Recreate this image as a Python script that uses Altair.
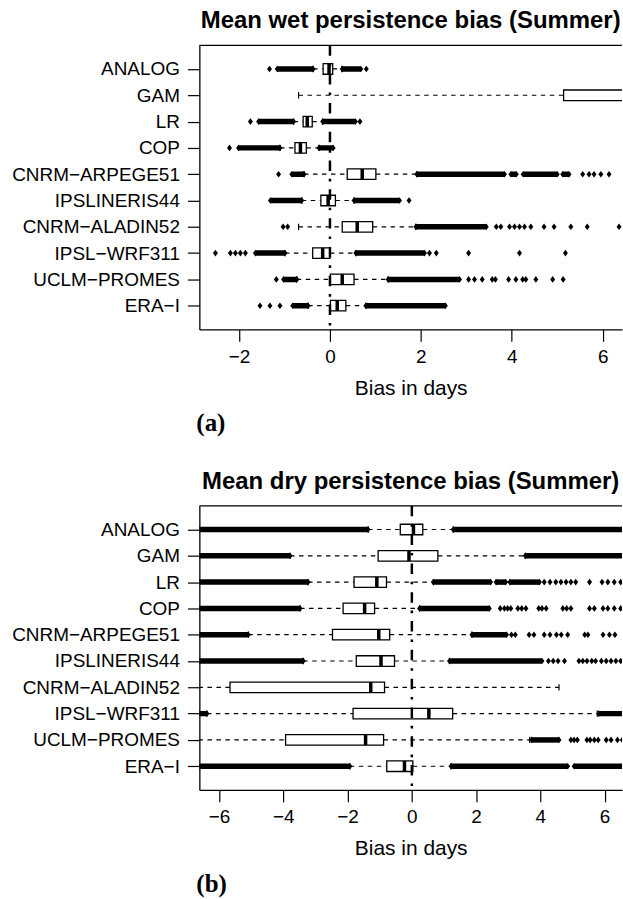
import altair as alt
import pandas as pd

# Models, listed top to bottom as they appear on the y axis
MODELS = ["ANALOG", "GAM", "LR", "COP", "CNRM−ARPEGE51", "IPSLINERIS44",
          "CNRM−ALADIN52", "IPSL−WRF311", "UCLM−PROMES", "ERA−I"]
ROWS = [10, 9, 8, 7, 6, 5, 4, 3, 2, 1]
ROW_OF = dict(zip(MODELS, ROWS))

# ---- (a) mean wet persistence bias, box statistics (days) ----
WET_LO = [-0.37, -0.69, -0.80, -1.10, -0.57, -0.62, -0.69, -0.99, -0.73, -0.48]
WET_Q1 = [-0.15, 5.14, -0.59, -0.77, 0.38, -0.20, 0.27, -0.38, 0.01, 0.01]
WET_MED = [-0.02, 6.80, -0.50, -0.65, 0.71, -0.04, 0.60, -0.16, 0.27, 0.16]
WET_Q3 = [0.06, 7.30, -0.39, -0.52, 1.01, 0.12, 0.94, 0.00, 0.53, 0.35]
WET_HI = [0.26, 7.60, -0.16, -0.24, 1.91, 0.53, 1.89, 0.57, 1.28, 0.79]

# dense runs of outliers (start, end)
WET_RUNS = [
    ("ANALOG", -1.16, -0.37), ("ANALOG", 0.27, 0.68),
    ("LR", -1.57, -0.80), ("LR", -0.16, 0.56),
    ("COP", -2.01, -1.10), ("COP", -0.24, 0.07),
    ("CNRM−ARPEGE51", -0.84, -0.57), ("CNRM−ARPEGE51", 1.91, 3.84),
    ("CNRM−ARPEGE51", 3.98, 4.10), ("CNRM−ARPEGE51", 4.25, 5.00),
    ("CNRM−ARPEGE51", 5.12, 5.26),
    ("IPSLINERIS44", -1.31, -0.62), ("IPSLINERIS44", 0.53, 1.53),
    ("CNRM−ALADIN52", 1.89, 3.44),
    ("IPSL−WRF311", -1.64, -0.99), ("IPSL−WRF311", 0.57, 2.08),
    ("UCLM−PROMES", -1.02, -0.73), ("UCLM−PROMES", 1.28, 2.85),
    ("ERA−I", -0.82, -0.48), ("ERA−I", 0.79, 2.54),
]
# isolated outliers
WET_POINTS = [
    ("ANALOG", -1.33), ("ANALOG", 0.80),
    ("LR", -1.75), ("LR", 0.66),
    ("COP", -2.21),
    ("CNRM−ARPEGE51", -1.13), ("CNRM−ARPEGE51", 5.56), ("CNRM−ARPEGE51", 5.70),
    ("CNRM−ARPEGE51", 5.81), ("CNRM−ARPEGE51", 5.96), ("CNRM−ARPEGE51", 6.14),
    ("IPSLINERIS44", 1.74),
    ("CNRM−ALADIN52", -1.03), ("CNRM−ALADIN52", -0.93), ("CNRM−ALADIN52", 3.66),
    ("CNRM−ALADIN52", 3.76), ("CNRM−ALADIN52", 3.95), ("CNRM−ALADIN52", 4.06),
    ("CNRM−ALADIN52", 4.17), ("CNRM−ALADIN52", 4.28), ("CNRM−ALADIN52", 4.42),
    ("CNRM−ALADIN52", 4.71), ("CNRM−ALADIN52", 4.93), ("CNRM−ALADIN52", 5.30),
    ("CNRM−ALADIN52", 5.66), ("CNRM−ALADIN52", 6.36),
    ("IPSL−WRF311", -2.52), ("IPSL−WRF311", -2.19), ("IPSL−WRF311", -2.08),
    ("IPSL−WRF311", -1.97), ("IPSL−WRF311", -1.86), ("IPSL−WRF311", 2.19),
    ("IPSL−WRF311", 2.34), ("IPSL−WRF311", 3.05), ("IPSL−WRF311", 4.17),
    ("IPSL−WRF311", 5.18),
    ("UCLM−PROMES", -1.18), ("UCLM−PROMES", 3.05), ("UCLM−PROMES", 3.18),
    ("UCLM−PROMES", 3.35), ("UCLM−PROMES", 3.57), ("UCLM−PROMES", 3.64),
    ("UCLM−PROMES", 3.93), ("UCLM−PROMES", 4.09), ("UCLM−PROMES", 4.24),
    ("UCLM−PROMES", 4.31), ("UCLM−PROMES", 4.53), ("UCLM−PROMES", 4.90),
    ("UCLM−PROMES", 5.13),
    ("ERA−I", -1.54), ("ERA−I", -1.32), ("ERA−I", -1.10),
]

# ---- (b) mean dry persistence bias, box statistics (days) ----
DRY_LO = [-1.36, -3.79, -3.23, -3.48, -5.09, -3.38, -7.20, -6.38, -7.20, -1.93]
DRY_Q1 = [-0.36, -1.05, -1.80, -2.14, -2.47, -1.73, -5.66, -1.83, -3.93, -0.78]
DRY_MED = [0.05, -0.09, -1.09, -1.47, -1.03, -0.96, -1.28, 0.53, -1.44, -0.23]
DRY_Q3 = [0.34, 0.81, -0.79, -1.16, -0.69, -0.54, -0.85, 1.27, -0.88, 0.03]
DRY_HI = [1.29, 3.53, 0.67, 0.24, 1.87, 1.17, 4.58, 5.77, 3.67, 1.22]

DRY_RUNS = [
    ("ANALOG", -7.20, -1.36), ("ANALOG", 1.29, 7.20),
    ("GAM", -7.20, -3.79), ("GAM", 3.53, 7.20),
    ("LR", -7.20, -3.23), ("LR", 0.67, 2.45), ("LR", 2.62, 2.92), ("LR", 3.05, 3.97),
    ("COP", -7.20, -3.48), ("COP", 0.24, 2.41),
    ("CNRM−ARPEGE51", -7.20, -5.09), ("CNRM−ARPEGE51", 1.87, 2.95),
    ("IPSLINERIS44", -7.20, -3.38), ("IPSLINERIS44", 1.17, 4.05),
    ("IPSL−WRF311", -7.20, -6.38), ("IPSL−WRF311", 5.82, 7.20),
    ("UCLM−PROMES", 3.73, 4.58),
    ("ERA−I", -7.20, -1.93), ("ERA−I", 1.22, 4.85), ("ERA−I", 5.05, 7.20),
]
DRY_POINTS = [
    ("LR", 4.12), ("LR", 4.30), ("LR", 4.48), ("LR", 4.64), ("LR", 4.80),
    ("LR", 4.95), ("LR", 5.10), ("LR", 5.53), ("LR", 5.92), ("LR", 6.10),
    ("LR", 6.30), ("LR", 6.50),
    ("COP", 2.75), ("COP", 2.88), ("COP", 2.98), ("COP", 3.08), ("COP", 3.30),
    ("COP", 3.42), ("COP", 3.55), ("COP", 3.95), ("COP", 4.05), ("COP", 4.18),
    ("COP", 4.70), ("COP", 4.82), ("COP", 4.95), ("COP", 5.53), ("COP", 5.68),
    ("COP", 5.95), ("COP", 6.10), ("COP", 6.30), ("COP", 6.50),
    ("CNRM−ARPEGE51", 3.10), ("CNRM−ARPEGE51", 3.22), ("CNRM−ARPEGE51", 3.65),
    ("CNRM−ARPEGE51", 3.80), ("CNRM−ARPEGE51", 4.12), ("CNRM−ARPEGE51", 4.30),
    ("CNRM−ARPEGE51", 4.50), ("CNRM−ARPEGE51", 4.65), ("CNRM−ARPEGE51", 4.85),
    ("CNRM−ARPEGE51", 5.38), ("CNRM−ARPEGE51", 5.48), ("CNRM−ARPEGE51", 5.95),
    ("CNRM−ARPEGE51", 6.15), ("CNRM−ARPEGE51", 6.32),
    ("IPSLINERIS44", 4.25), ("IPSLINERIS44", 4.40), ("IPSLINERIS44", 4.55),
    ("IPSLINERIS44", 4.75), ("IPSLINERIS44", 5.20), ("IPSLINERIS44", 5.32),
    ("IPSLINERIS44", 5.45), ("IPSLINERIS44", 5.60), ("IPSLINERIS44", 5.72),
    ("IPSLINERIS44", 5.90), ("IPSLINERIS44", 6.05), ("IPSLINERIS44", 6.20),
    ("IPSLINERIS44", 6.35), ("IPSLINERIS44", 6.50),
    ("UCLM−PROMES", 4.95), ("UCLM−PROMES", 5.05), ("UCLM−PROMES", 5.15),
    ("UCLM−PROMES", 5.45), ("UCLM−PROMES", 5.55), ("UCLM−PROMES", 5.68),
    ("UCLM−PROMES", 5.80), ("UCLM−PROMES", 6.05), ("UCLM−PROMES", 6.20),
    ("UCLM−PROMES", 6.40), ("UCLM−PROMES", 6.55),
]

WET_DOMAIN = [-2.873, 6.425]
WET_TICKS = [-2, 0, 2, 4, 6]
DRY_DOMAIN = [-6.614, 6.541]
DRY_TICKS = [-6, -4, -2, 0, 2, 4, 6]

W, H = 424, 285
FONT = "Liberation Sans"
DIAMOND = "M0,-1L0.75,0L0,1L-0.75,0Z"


def box_frame(lo, q1, med, q3, hi):
    return pd.DataFrame({"model": MODELS, "row": ROWS, "lo": lo, "q1": q1,
                         "med": med, "q3": q3, "hi": hi})


def run_frame(runs):
    return pd.DataFrame([{"row": ROW_OF[m], "start": s, "end": e} for m, s, e in runs])


def point_frame(points, runs):
    pts = [{"row": ROW_OF[m], "value": v} for m, v in points]
    # ends of every dense run get a diamond of their own
    for m, s, e in runs:
        pts.append({"row": ROW_OF[m], "value": s})
        pts.append({"row": ROW_OF[m], "value": e})
    return pd.DataFrame(pts)


label_lookup = [""] * 11
for m, r in zip(MODELS, ROWS):
    label_lookup[r] = m
label_expr = "[" + ",".join("'" + s + "'" for s in label_lookup) + "][datum.value]"


def panel(title, tag, boxes, runs, points, domain, ticks):
    xs = alt.Scale(domain=domain, nice=False, zero=False)
    ys = alt.Scale(domain=[0.1, 10.9], nice=False, zero=False)
    xa = alt.Axis(values=ticks, title="Bias in days", labelFlush=False)
    ya = alt.Axis(values=list(range(1, 11)), labelExpr=label_expr, title=None)

    def X(f):
        return alt.X(f, type="quantitative", scale=xs, axis=xa)

    def Y(f):
        return alt.Y(f, type="quantitative", scale=ys, axis=ya)

    base = alt.Chart(boxes).transform_calculate(
        y0="datum.row - 0.2", y1="datum.row + 0.2",
        s0="datum.row - 0.12", s1="datum.row + 0.12")

    whisk_lo = base.mark_rule(color="black", strokeWidth=1.2, strokeDash=[4.5, 4.5],
                              clip=True).encode(x=X("lo"), x2="q1", y=Y("row"))
    whisk_hi = base.mark_rule(color="black", strokeWidth=1.2, strokeDash=[4.5, 4.5],
                              clip=True).encode(x=X("q3"), x2="hi", y=Y("row"))
    staple_lo = base.mark_rule(color="black", strokeWidth=1.2, clip=True).encode(
        x=X("lo"), y=Y("s0"), y2="s1")
    staple_hi = base.mark_rule(color="black", strokeWidth=1.2, clip=True).encode(
        x=X("hi"), y=Y("s0"), y2="s1")
    box = base.mark_rect(fill="white", stroke="black", strokeWidth=1.3, clip=True).encode(
        x=X("q1"), x2="q3", y=Y("y0"), y2="y1")
    median = base.mark_rule(color="black", strokeWidth=3.5, clip=True).encode(
        x=X("med"), y=Y("y0"), y2="y1")

    run = alt.Chart(runs).mark_rule(color="black", strokeWidth=5.5, clip=True).encode(
        x=X("start"), x2="end", y=Y("row"))
    pts = alt.Chart(points).mark_point(shape=DIAMOND, filled=True, color="black",
                                       opacity=1, size=44, strokeWidth=0, clip=True).encode(
        x=X("value"), y=Y("row"))

    zero = alt.Chart(pd.DataFrame({"v": [0]})).mark_rule(
        color="black", strokeWidth=2.5, strokeDash=[10.5, 7.9, 2.6, 7.9]).encode(x=X("v"))

    top = alt.Chart(pd.DataFrame({"v": [0]})).mark_rule(color="black", strokeWidth=1.3).encode(
        x=alt.value(0), x2=alt.value(W), y=alt.value(0))

    caption = alt.Chart(pd.DataFrame({"t": [tag]})).mark_text(
        font="Liberation Serif", fontWeight="bold", fontSize=25, align="left",
        baseline="middle", color="black").encode(
        text="t:N", x=alt.value(-3), y=alt.value(H + 94))

    return alt.layer(whisk_lo, whisk_hi, staple_lo, staple_hi, box, median,
                     run, pts, zero, top, caption).properties(
        width=W, height=H, title=alt.TitleParams(title, anchor="middle"))


wet = panel("Mean wet persistence bias (Summer)", "(a)",
            box_frame(WET_LO, WET_Q1, WET_MED, WET_Q3, WET_HI),
            run_frame(WET_RUNS), point_frame(WET_POINTS, WET_RUNS),
            WET_DOMAIN, WET_TICKS)
dry = panel("Mean dry persistence bias (Summer)", "(b)",
            box_frame(DRY_LO, DRY_Q1, DRY_MED, DRY_Q3, DRY_HI),
            run_frame(DRY_RUNS), point_frame(DRY_POINTS, DRY_RUNS),
            DRY_DOMAIN, DRY_TICKS)

chart = alt.vconcat(wet, dry, spacing=33).properties(
    padding={"left": 11, "right": 0, "top": 7, "bottom": 0},
    background="white",
).configure_view(stroke=None).configure_axis(
    domainColor="black", domainWidth=1.3, tickColor="black", tickWidth=1.2,
    tickSize=12, grid=False, labelFont=FONT, labelFontSize=19, labelColor="black",
    titleFont=FONT, titleFontSize=21, titleFontWeight="normal", titleColor="black",
).configure_axisX(labelPadding=6, titlePadding=11).configure_axisY(
    labelPadding=8).configure_title(
    font=FONT, fontSize=24, fontWeight="bold", color="black", offset=11,
    baseline="alphabetic")

chart.save("out.html", embed_options={"renderer": "svg", "actions": False})
